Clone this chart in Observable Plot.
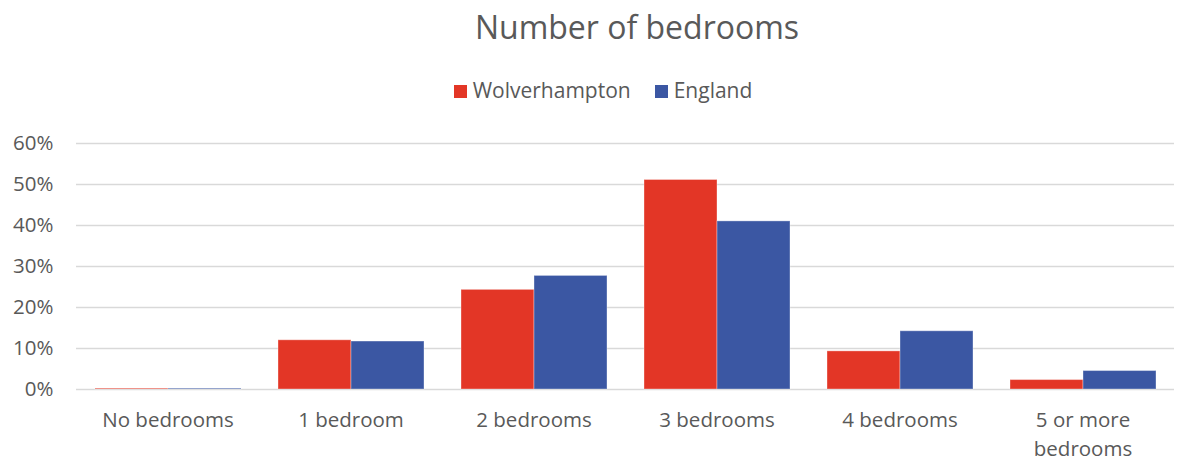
<!DOCTYPE html>
<html><head><meta charset="utf-8">
<script src="https://cdn.jsdelivr.net/npm/d3@7"></script>
<script src="https://cdn.jsdelivr.net/npm/@observablehq/plot@0.6"></script>
<style>
body{margin:0;background:#fff;font-family:"Open Sans",sans-serif;color:#595959}
#head{position:relative;width:1178px;height:120px}
#title{position:absolute;left:0;width:1178px;top:5px;text-align:center;font-size:32px;padding-left:96px;box-sizing:border-box;line-height:44px}
#legend{position:absolute;left:0;width:1178px;top:75px;text-align:center;font-size:21px;padding-left:28px;box-sizing:border-box;line-height:30px}
.sw{display:inline-block;width:13px;height:13px;margin-right:6px;vertical-align:0px}
.item{margin:0 12px}
</style></head><body>
<div id="head"><div id="title">Number of bedrooms</div><div id="legend"></div></div>
<div id="chart"></div>
<script>
const categories = ["No bedrooms","1 bedroom","2 bedrooms","3 bedrooms","4 bedrooms","5 or more bedrooms"];
const tickLabels = ["No bedrooms","1 bedroom","2 bedrooms","3 bedrooms","4 bedrooms","5 or more\nbedrooms"];
const seriesNames = ["Wolverhampton","England"];
const wolverhampton = [0.002,0.120,0.243,0.511,0.093,0.023];
const england = [0.002,0.117,0.277,0.410,0.142,0.045];
const colors = ["#E33626","#3B57A3"];
const yTicks = [0,0.1,0.2,0.3,0.4,0.5,0.6];

const legend = document.getElementById("legend");
seriesNames.forEach((s,i)=>{
  const span = document.createElement("span");
  span.className="item";
  span.innerHTML = `<span class="sw" style="background:${colors[i]}"></span>${s}`;
  legend.appendChild(span);
});

const data = categories.flatMap((c,i)=>[
  {cat:c, series:seriesNames[0], v:wolverhampton[i]},
  {cat:c, series:seriesNames[1], v:england[i]}
]);

const chart = Plot.plot({
  width:1178, height:342, marginTop:23, marginBottom:73, marginLeft:73, marginRight:2,
  style:{fontFamily:"Open Sans", fontSize:"20.5px", color:"#595959", background:"#fff"},
  fx:{domain:categories, padding:0, label:null},
  x:{domain:seriesNames, paddingInner:0, paddingOuter:0.245, axis:null},
  y:{domain:[0,0.6], label:null},
  color:{domain:seriesNames, range:colors},
  marks:[
    Plot.ruleY(yTicks,{stroke:"#d9d9d9", strokeWidth:1.5}),
    Plot.barY(data,{fx:"cat", x:"series", y:"v", fill:"series", stroke:"#ffffff", strokeOpacity:0.35, strokeWidth:1}),
    Plot.axisY({ticks:yTicks, tickFormat:d3.format(".0%"), tickSize:0, tickPadding:23, label:null, fill:"#595959"}),
    Plot.axisFx({anchor:"bottom", tickSize:0, tickPadding:17, label:null, lineHeight:1.42, fill:"#595959",
      tickFormat:d=>tickLabels[categories.indexOf(d)]})
  ]
});
document.getElementById("chart").appendChild(chart);
</script>
</body></html>
